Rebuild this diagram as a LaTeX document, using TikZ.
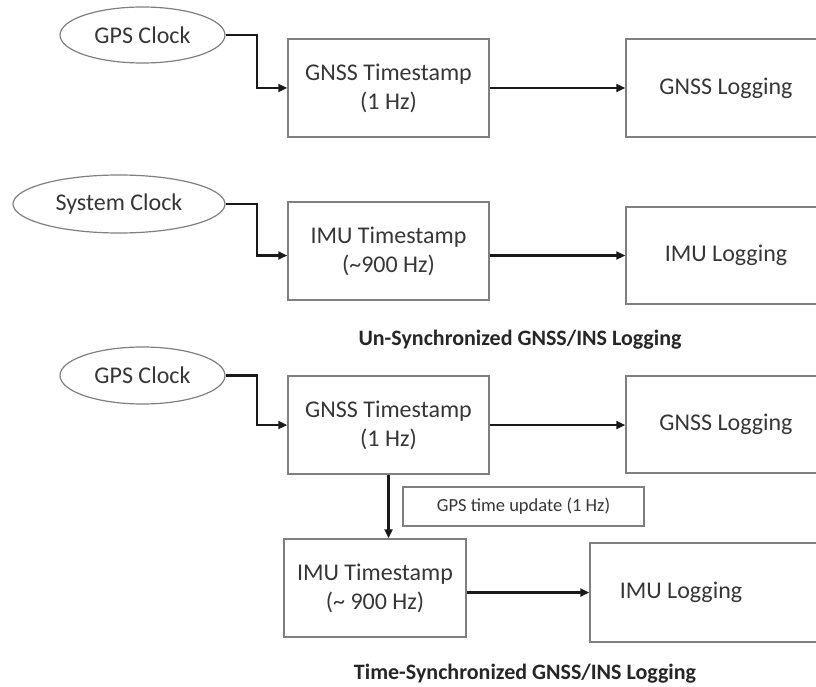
\documentclass[tikz,border=0pt]{standalone}
\usepackage{fontspec}
\setmainfont{Carlito}
\usetikzlibrary{shapes.geometric,arrows.meta}
\definecolor{txtc}{HTML}{363636}
\definecolor{brd}{HTML}{7F7F7F}
\tikzset{
  base/.style={inner sep=0pt, text=txtc, font=\fontsize{24}{29}\selectfont, align=center},
  clockbox/.style={base, ellipse, draw=brd, line width=1.2pt},
  tsbox/.style={base, rectangle, draw=brd, line width=1.5pt, minimum height=98pt},
  logbox/.style={base, rectangle, draw=brd, line width=1.5pt, minimum height=98pt},
  updbox/.style={base, rectangle, draw=brd, line width=1.3pt, font=\fontsize{18.5}{22}\selectfont},
  caption/.style={inner sep=0pt, text=black!85, font=\fontsize{22}{26}\selectfont\bfseries},
  conn/.style={line width=2.8pt, draw=black!90, -{Triangle[length=9pt,width=8pt]}},
  lbl/.style={base}
}
\begin{document}
\begin{tikzpicture}[x=1pt,y=-1pt]
\useasboundingbox (0,0) rectangle (816,687);
\clip (0,0) rectangle (816,687);
% ---- block 1 ----
\node[clockbox, minimum width=165pt, minimum height=56pt] (c1) at (142.5,35) {GPS Clock};
\node[tsbox, minimum width=201pt] (t1) at (388.5,88) {GNSS Timestamp\\(1 Hz)};
\node[logbox, minimum width=200pt] (l1) at (726,88) {GNSS Logging};
\draw[conn] (c1.east) -- (257,35) |- (t1.west);
\draw[conn] (t1.east) -- (l1.west);
% ---- block 2 ----
\node[clockbox, minimum width=212pt, minimum height=58pt] (c2) at (119,204) {System Clock};
\node[tsbox, minimum width=201pt] (t2) at (388.5,251) {IMU Timestamp\\(\textasciitilde900 Hz)};
\node[logbox, minimum width=200pt, minimum height=97pt] (l2) at (726,255.5) {IMU Logging};
\draw[conn] (c2.east) -- (257,204) |- (t2.west |- l2.west);
\draw[conn] (t2.east |- l2.west) -- (l2.west);
\node[caption] (cap1) at (520,340) {Un-Synchronized GNSS/INS Logging};
% ---- block 3 ----
\node[clockbox, minimum width=165pt, minimum height=57pt] (c3) at (142.5,375.5) {GPS Clock};
\node[tsbox, minimum width=201pt] (t3) at (388.5,425) {GNSS Timestamp\\(1 Hz)};
\node[logbox, minimum width=200pt, minimum height=97pt] (l3g) at (726,424.5) {GNSS Logging};
\draw[conn] (c3.east) -- (257,375.5) |- (t3.west);
\draw[conn] (t3.east) -- (t3.east -| l3g.west);
\node[updbox, minimum width=241pt, minimum height=39pt] (upd) at (523.5,506.5) {GPS time update (1 Hz)};
\node[tsbox, minimum width=182pt] (i3) at (375,588) {IMU Timestamp\\(\textasciitilde{} 900 Hz)};
\node[logbox, minimum width=240pt, minimum height=99pt] (l3) at (710,592.5) {};
\node[lbl] (l3t) at (681,592.5) {IMU Logging};
\draw[conn] (t3.south) -- (t3.south |- i3.north);
\draw[conn] (i3.east |- l3.west) -- (l3.west);
\node[caption] (cap2) at (525,674) {Time-Synchronized GNSS/INS Logging};
\end{tikzpicture}
\end{document}
